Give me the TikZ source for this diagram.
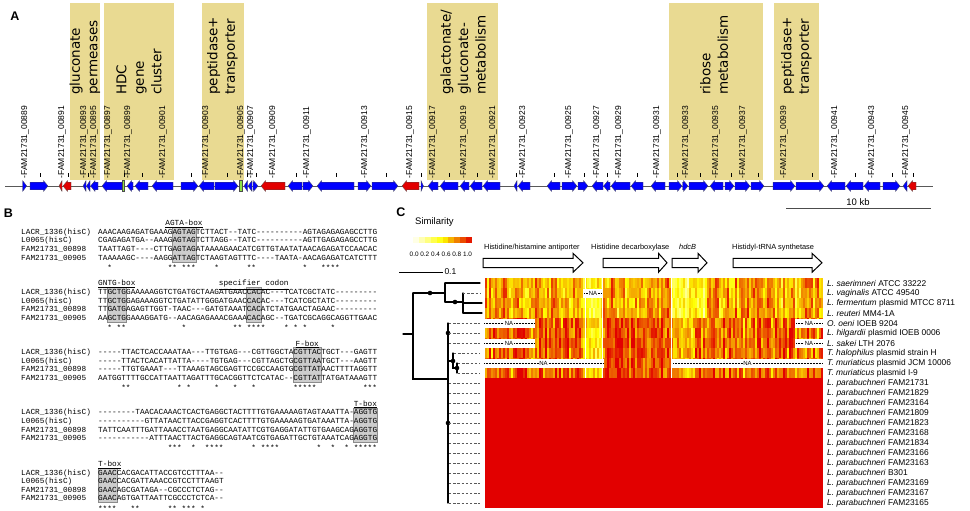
\documentclass[tikz,border=0pt]{standalone}
\usepackage{fontspec}
\setmainfont{Liberation Sans}
\setmonofont{Liberation Mono}[Ligatures=TeXOff]
\newfontfamily\regionfont{DejaVu Sans}
\usetikzlibrary{positioning,calc}

\definecolor{genblue}{RGB}{0,0,255}
\definecolor{genred}{RGB}{226,0,0}
\definecolor{gengreen}{RGB}{140,226,70}
\definecolor{regionbeige}{RGB}{233,218,146}
\definecolor{heatred}{RGB}{226,0,0}
\definecolor{motifgray}{RGB}{205,205,205}

\def\seqcw{4.65}

% gene on the contig: \gene{from}{to}{r|l|b}{colour}
\newcommand{\gene}[4]{%
  \pgfmathsetmacro\gh{min(4.5,#2-#1)}%
  \if r#3\relax
    \draw[genarrow,fill=#4] (#1,182.2) -- ({#2-\gh},182.2) -- ({#2-\gh},180.6) -- (#2,186) -- ({#2-\gh},191.4) -- ({#2-\gh},189.8) -- (#1,189.8) -- cycle;
  \else\if l#3\relax
    \draw[genarrow,fill=#4] (#2,182.2) -- ({#1+\gh},182.2) -- ({#1+\gh},180.6) -- (#1,186) -- ({#1+\gh},191.4) -- ({#1+\gh},189.8) -- (#2,189.8) -- cycle;
  \else
    \draw[genarrow,fill=#4] (#1,180.6) rectangle (#2,191.4);
  \fi\fi}

% similarity value -> white/yellow/red
\newcommand{\heatcolor}[1]{%
  \pgfmathsetmacro\hr{max(0,min(1,ifthenelse(#1<0.5,1,1-0.23*(#1-0.5))))}%
  \pgfmathsetmacro\hg{max(0,min(1,ifthenelse(#1<0.5,1,2-2*#1)))}%
  \pgfmathsetmacro\hb{max(0,min(1,ifthenelse(#1<0.5,1-2*#1,0)))}%
  \definecolor{hc}{rgb}{\hr,\hg,\hb}}

% open gene arrow above the heat map: \orfarrow{from}{to}{head}
\newcommand{\orfarrow}[3]{%
  \draw[orfline] (#1,258.3) -- ({#2-#3},258.3) -- ({#2-#3},253.3) -- (#2,262.8) -- ({#2-#3},272.3) -- ({#2-#3},267.5) -- (#1,267.5) -- cycle;}

% missing part of a row: \nabox{from}{to}{row}{name}
\newcommand{\nabox}[4]{%
  \fill[white] (#1,{269+10*#3}) rectangle (#2,{277.5+10*#3});
  \draw[nadots] (#1+1,{273+10*#3}) -- (#2-1,{273+10*#3});
  \node[nalabel] (#4) at ({(#1+#2)/2},{273+10*#3}) {NA};}

% grey motif box over the four rows of a block
\newcommand{\motifbox}[3]{%
  \fill[motifgray,draw=black!45,line width=0.4pt] ({98+\seqcw*#2-0.3},{223+60.2*#1+4.2}) rectangle ({98+\seqcw*(#3+1)+0.3},{223+60.2*#1+4*8.6+4.4});}

\begin{document}
\begin{tikzpicture}[x=1pt,y=-1pt,
    genarrow/.style={draw=black!70,line width=0.3pt},
    genlabel/.style={rotate=90,anchor=west,inner sep=0pt,font=\fontsize{8.5}{8.5}\selectfont},
    regiontext/.style={rotate=90,anchor=west,inner sep=0pt,align=left,font=\regionfont\fontsize{13.5}{17.5}\selectfont},
    panellabel/.style={inner sep=0pt,font=\bfseries\fontsize{12.5}{12.5}\selectfont},
    seqtext/.style={anchor=base west,inner sep=0pt,font=\ttfamily\fontsize{7.75}{8}\selectfont},
    motiflabel/.style={anchor=base,inner sep=0pt,font=\ttfamily\fontsize{7.75}{8}\selectfont},
    starmark/.style={anchor=base,inner sep=0pt,font=\ttfamily\fontsize{7.75}{8}\selectfont},
    orfline/.style={draw=black,fill=white,line width=1pt,line join=miter},
    orftext/.style={anchor=base west,inner sep=0pt,font=\fontsize{7.4}{7.4}\selectfont},
    specieslabel/.style={anchor=west,inner sep=0pt,font=\fontsize{8.4}{8.4}\selectfont},
    nadots/.style={densely dotted,line width=0.5pt},
    nalabel/.style={fill=white,inner sep=0.6pt,font=\fontsize{6}{6}\selectfont},
    treeline/.style={line width=1.3pt,line cap=round},
    tipline/.style={black!65,line width=0.9pt,dash pattern=on 2.4pt off 1.8pt}]
\useasboundingbox (0,0) rectangle (970,511);

%% A: contig
\node[panellabel] (labA) at (15,16) {A};
\foreach \xa/\xb in {70/100,104/174,202/244,427/498,669/763,774/819}
    \fill[regionbeige] (\xa,3) rectangle (\xb,180);
\node[regiontext] (rg1) at (85,95) {gluconate\\permeases};
\node[regiontext] (rg2) at (139,95) {HDC\\gene\\cluster};
\node[regiontext] (rg3) at (222.5,95) {peptidase+\\transporter};
\node[regiontext] (rg4) at (463,95) {galactonate/\\gluconate-\\metabolism};
\node[regiontext] (rg5) at (714,95) {ribose\\metabolism};
\node[regiontext] (rg6) at (796.5,95) {peptidase+\\transporter};

\draw[black!65,line width=0.6pt] (5,186) -- (933,186);
\foreach \x in {40,68,88,124,142,191,227,247,256,296,336,386,421,449,477,516,554,584,607,637,677,700,731,758,812,855,892,913}
    \draw[line width=0.5pt] (\x,173) -- (\x,176.8);
\foreach \x/\n in {25/00889,62/00891,84/00893,94/00895,108/00897,128/00899,163/00901,206/00903,241/00905,251/00907,273/00909,307/00911,365/00913,410/00915,433/00917,464/00919,493/00921,523/00923,569/00925,597/00927,619/00929,657/00931,686/00933,716/00935,743/00937,784/00939,835/00941,872/00943,906/00945}
    \node[genlabel] (g\n) at (\x,178.5) {-FAM21731\_\n};

\foreach \xa/\xb/\dir/\gcol in {22.7/26.7/r/genblue,30/48/r/genblue,59/62/l/genred,63/71/l/genred,
    83/86/l/genblue,86.5/90/l/genblue,90.5/98/l/genblue,102/122/l/genblue,122/124.5/b/gengreen,
    127/133/l/genblue,135/148/l/genblue,152/173/l/genblue,181/198/r/genblue,199/214/l/genblue,
    215/238/r/genblue,239/242/b/gengreen,244/247.5/l/genblue,248/252/l/genblue,253/258/r/genblue,
    261/285/l/genred,288/302/l/genblue,303/313/r/genblue,317/354/l/genblue,358/371/r/genblue,
    372/398/r/genblue,402/419/l/genred,421/423.5/r/genblue,428/438/l/genblue,440/458/l/genblue,
    460/469/l/genblue,470/482/l/genblue,483/500/l/genblue,514/517/l/genblue,518/530/l/genblue,
    547/560/l/genblue,562/577/r/genblue,578/588/r/genblue,592/603/l/genblue,603.5/610/l/genblue,
    611/630/l/genblue,631/643/l/genblue,651/665/l/genblue,669/682/r/genblue,682.5/688/r/genblue,
    689/708/r/genblue,710/723/l/genblue,725/734/r/genblue,735/750/r/genblue,751/764/r/genblue,
    773/795/r/genblue,796/824/r/genblue,827/845/l/genblue,846/863/l/genblue,864/880/l/genblue,
    883/900/r/genblue,903/907/l/genblue,908/916/l/genred}
    {\gene{\xa}{\xb}{\dir}{\gcol}}

\draw[black!70,line width=1pt] (786,208) -- (931,208);
\node[font=\fontsize{9.5}{9.5}\selectfont,inner sep=0pt] (kb) at (858,202) {10 kb};

%% B: alignment
\node[panellabel] (labB) at (8.5,213) {B};
\motifbox{0}{16}{20}
\motifbox{1}{2}{5}
\motifbox{1}{32}{34}
\motifbox{2}{42}{47}
\motifbox{3}{55}{59}
\motifbox{4}{0}{3}
\node[motiflabel] (mAGTA) at ({98+\seqcw*18.5},225.6) {\underline{AGTA-box}};
\node[motiflabel,anchor=base west] (mGNTG) at (98,285.8) {\underline{GNTG-box}};
\node[motiflabel] (mcodon) at ({98+\seqcw*33.5},285.8) {\underline{specifier codon}};
\node[motiflabel] (mF) at ({98+\seqcw*45},346) {\underline{F-box}};
\node[motiflabel] (mT) at ({98+\seqcw*57.5},406.2) {\underline{T-box}};
\node[motiflabel,anchor=base west] (mTb) at (98,466.4) {\underline{T-box}};

\foreach \bk in {0,...,4}
  \foreach \rw/\nm in {1/LACR\_1336(hisC),2/L0065(hisC),3/FAM21731\_00898,4/FAM21731\_00905}
    \node[seqtext] (nm\bk\rw) at (21,{223+60.2*\bk+8.6*\rw+2.6}) {\nm};

\foreach \bk/\ra/\rb/\rc/\rd in {
  0/AAACAAGAGATGAAAGAGTAGTCTTACT--TATC----------AGTAGAGAGAGCCTTG/CGAGAGATGA--AAAGAGTAGTCTTAGG--TATC----------AGTTGAGAGAGCCTTG/TAATTAGT----CTTGAGTAGATAAAAGAACATCGTTGTAATATAACAGAGATCCAACAC/TAAAAAGC----AAGGATTAGTCTAAGTAGTTTC----TAATA-AACAGAGATCATCTTT,
  1/TTGCTGGAAAAAGGTCTGATGCTAAGATGAACCACAC---TCATCGCTATC---------/TTGCTGGAGAAAGGTCTGATATTGGGATGAACCACAC---TCATCGCTATC---------/TTGATGAGAGTTGGT-TAAC---GATGTAAATCACATCTATGAACTAGAAC---------/AAGCTGGAAAGGATG--AACAGAGAAACGAAACACAGC--TGATCGCAGGCAGGTTGAAC,
  2/-----TTACTCACCAAATAA---TTGTGAG---CGTTGGCTACGTTACTGCT---GAGTT/-----TTACTCACATTATTA----TGTGAG---CGTTAGCTGCGTTAATGCT---AAGTT/-----TTGTGAAAT---TTAAAGTAGCGAGTTCCGCCAAGTGCGTTATAACTTTTAGGTT/AATGGTTTTGCCATTAATTAGATTTGCACGGTTCTCATAC--CGTTATTATGATAAAGTT,
  3/--------TAACACAAACTCACTGAGGCTACTTTTGTGAAAAAGTAGTAAATTA-AGGTG/----------GTTATAACTTACCGAGGTCACTTTTGTGAAAAAGTGATAAATTA-AGGTG/TATTCAATTTGATTAAACCTAATGAGGCAATATTCGTGAGGATATTGTGAAGCAGAGGTG/-----------ATTTAACTTACTGAGGCAGTAATCGTGAGATTGCTGTAAATCAGAGGTG,
  4/GAACCACGACATTACCGTCCTTTAA--/GAACCACGATTAAACCGTCCTTTAAGT/GAACAGCGATAGA--CGCCCTCTAG--/GAACAGTGATTAATTCGCCCTCTCA--}{
  \node[seqtext] (sq\bk1) at (98,{223+60.2*\bk+8.6+2.6}) {\ra};
  \node[seqtext] (sq\bk2) at (98,{223+60.2*\bk+17.2+2.6}) {\rb};
  \node[seqtext] (sq\bk3) at (98,{223+60.2*\bk+25.8+2.6}) {\rc};
  \node[seqtext] (sq\bk4) at (98,{223+60.2*\bk+34.4+2.6}) {\rd};
}

\foreach \bk/\cols in {0/{2,15,16,18,19,20,25,32,33,44,48,49,50,51},
    1/{2,4,5,18,29,30,32,33,34,35,40,42,44,50},
    2/{5,6,17,19,25,29,33,42,43,44,45,46,57,58,59},
    3/{15,16,17,20,23,24,25,26,33,35,36,37,38,47,50,53,55,56,57,58,59},
    4/{0,1,2,3,7,8,15,16,18,19,20,22}}
  \foreach \c in \cols
    \node[starmark] (st\bk-\c) at ({98+\seqcw*(\c+0.5)},{223+60.2*\bk+43+4.2}) {*};

%% C: similarity heat map
\node[panellabel] (labC) at (401,212) {C};
\node[anchor=west,inner sep=0pt,font=\fontsize{9.5}{9.5}\selectfont] (simtitle) at (415,222) {Similarity};
\foreach \i in {0,...,9}{
    \pgfmathsetmacro\hv{(\i+0.5)/10}
    \heatcolor{\hv}
    \fill[hc] ({413+5.9*\i},237) rectangle ++(6.1,5.5);
}
\node[anchor=west,inner sep=0pt,font=\fontsize{6.4}{6.4}\selectfont] (simscale) at (409.5,254) {0.0 0.2 0.4 0.6 0.8 1.0};
\draw[line width=1pt] (399,272) -- (443,272) node[right,inner sep=1pt,font=\fontsize{8.5}{8.5}\selectfont] (tscale) {0.1};

\orfarrow{483}{583}{10}
\orfarrow{603}{667}{8.5}
\orfarrow{672}{707}{9}
\orfarrow{733}{822}{10}
\node[orftext] (o1) at (484,249.5) {Histidine/histamine antiporter};
\node[orftext] (o2) at (591,249.5) {Histidine decarboxylase};
\node[orftext] (o3) at (679,249.5) {\textit{hdcB}};
\node[orftext] (o4) at (732,249.5) {Histidyl-tRNA synthetase};

\pgfmathsetseed{4}
\foreach \c in {0,...,168}{
  \pgfmathsetmacro\hx{485+2*\c}
  \pgfmathsetmacro\ba{ifthenelse(\hx<583,0.5+0.36*rnd,ifthenelse(\hx<603,0.38+0.15*rnd,ifthenelse(\hx<670,0.46+0.4*rnd,ifthenelse(\hx<707,0.18+0.35*rnd,0.47+0.38*rnd))))}
  \pgfmathsetmacro\bb{ifthenelse(\hx<583,0.6+0.38*rnd,ifthenelse(\hx<603,0.4+0.2*rnd,ifthenelse(\hx<670,0.72+0.28*rnd,ifthenelse(\hx<707,0.5+0.45*rnd,0.58+0.4*rnd))))}
  \foreach \r in {1,...,10}{
    \pgfmathsetmacro\hv{max(0,min(1,ifthenelse(\r<5,\ba,\bb)+0.3*(rnd-0.5)))}
    \heatcolor{\hv}
    \fill[hc] (\hx,268+10*\r) rectangle ++(2.15,10);
  }
}
\foreach \x in {585,602,670.5}
    \fill[white] (\x,278) rectangle ++(1.2,100);
\fill[heatred] (485,378) rectangle (823,508);
\nabox{583}{603}{2}{na2}
\nabox{483}{535}{5}{na5a}
\nabox{795}{823}{5}{na5b}
\nabox{483}{535}{7}{na7a}
\nabox{795}{823}{7}{na7b}
\nabox{483}{604}{9}{na9a}
\nabox{672}{823}{9}{na9b}

% tree
\draw[treeline] (403,334) -- (413,334);
\draw[treeline] (413,293) -- (413,379) -- (448,379);
\draw[treeline] (413,293) -- (445,293);
\draw[treeline] (445,283) -- (445,302);
\draw[treeline] (445,283) -- (480,283);
\draw[treeline] (445,302) -- (463,302);
\draw[treeline] (463,293) -- (463,313);
\draw[treeline] (463,303) -- (482,303);
\draw[treeline] (463,313) -- (482,313);
\draw[treeline] (448,323) -- (448,503);
\draw[treeline] (448,361) -- (453,361);
\draw[treeline] (453,353) -- (453,368) -- (457,368);
\draw[treeline] (457,363) -- (457,373);
\foreach \p in {(430,293),(455,302),(448,333),(453,361),(457,368),(448,423)}
    \fill \p circle (2.3);
\draw[tipline] (463,293) -- (480,293);
\foreach \r in {5,6,7,11,12,...,23}
    \draw[tipline] (449,273+10*\r) -- (480,273+10*\r);
\draw[tipline] (454,353) -- (480,353);
\foreach \r in {9,10}
    \draw[tipline] (458,273+10*\r) -- (480,273+10*\r);

\foreach \r/\sp/\st in {1/L. saerimneri/ATCC 33222,2/L. vaginalis/ATCC 49540,
    3/L. fermentum/plasmid MTCC 8711,4/L. reuteri/MM4-1A,5/O. oeni/IOEB 9204,
    6/L. hilgardii/plasmid IOEB 0006,7/L. sakei/LTH 2076,8/T. halophilus/plasmid strain H,
    9/T. muriaticus/plasmid JCM 10006,10/T. muriaticus/plasmid I-9,
    11/L. parabuchneri/FAM21731,12/L. parabuchneri/FAM21829,13/L. parabuchneri/FAM23164,
    14/L. parabuchneri/FAM21809,15/L. parabuchneri/FAM21823,16/L. parabuchneri/FAM23168,
    17/L. parabuchneri/FAM21834,18/L. parabuchneri/FAM23166,19/L. parabuchneri/FAM23163,
    20/L. parabuchneri/B301,21/L. parabuchneri/FAM23169,22/L. parabuchneri/FAM23167,
    23/L. parabuchneri/FAM23165}
    \node[specieslabel] (sp\r) at (827,273+10*\r) {\textit{\sp} \st};
\end{tikzpicture}
\end{document}
